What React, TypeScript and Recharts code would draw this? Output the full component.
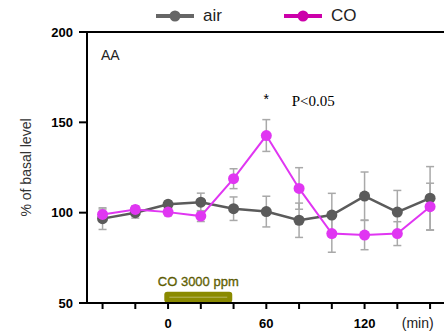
import React from 'react';
import {
  LineChart,
  Line,
  XAxis,
  YAxis,
  ErrorBar,
  ReferenceLine,
  ReferenceArea,
  ReferenceDot,
} from 'recharts';

// time points (min), relative to CO onset
const times = [-40, -20, 0, 20, 40, 60, 80, 100, 120, 140, 160];
const airMean = [96.7, 100, 104.6, 105.8, 102.2, 100.6, 95.8, 98.7, 109.2, 100.3, 108];
const airErr = [6, 3, 2, 5, 6.5, 8.5, 9.5, 12, 13.3, 12, 17.5];
const coMean = [99, 101.8, 100.3, 98.1, 118.8, 142.7, 113.4, 88.4, 87.6, 88.4, 103.3];
const coErr = [3, 2, 2, 3, 5.5, 8.8, 11.5, 10.3, 8.1, 6.6, 13];

const xTicks = [-40, -20, 0, 20, 40, 60, 80, 100, 120, 140, 150, 160];
const xLabels: Record<number, string> = { 0: '0', 60: '60', 120: '120' };
const yTicks = [50, 100, 150, 200];

const data = times.map((t, i) => ({
  t,
  air: airMean[i],
  airErr: airErr[i],
  co: coMean[i],
  coErr: coErr[i],
}));

const FONT = 'Liberation Sans, Arial, sans-serif';
const AIR = '#5b5b5b';
const CO = '#e036f2';

const XTick = (props: any) => {
  const { x, y, payload } = props;
  const v = payload.value;
  if (v === 150) {
    return (
      <text x={x + 4} y={y + 25} textAnchor="middle" fontFamily={FONT} fontSize={14} fill="#222">
        (min)
      </text>
    );
  }
  return (
    <g>
      <line x1={x} x2={x} y1={y} y2={y + 6} stroke="#000" strokeWidth={2} />
      {xLabels[v] && (
        <text x={x} y={y + 25} textAnchor="middle" fontFamily={FONT} fontSize={13} fontWeight="bold" fill="#000">
          {xLabels[v]}
        </text>
      )}
    </g>
  );
};

const LegendSymbol = ({ color }: { color: string }) => (
  <svg width={38} height={14} style={{ display: 'block' }}>
    <line x1={0} x2={38} y1={7} y2={7} stroke={color} strokeWidth={4} />
    <circle cx={19} cy={7} r={5.5} fill={color} />
  </svg>
);

const ChartLegend = () => (
  <div
    style={{
      position: 'absolute',
      top: 6,
      left: 0,
      display: 'flex',
      alignItems: 'center',
      paddingLeft: 156,
      fontFamily: FONT,
      fontSize: 17,
      color: '#222',
      lineHeight: '20px',
    }}
  >
    <LegendSymbol color="#666" />
    <span style={{ marginLeft: 9 }}>air</span>
    <span style={{ width: 62 }} />
    <LegendSymbol color="#cc00aa" />
    <span style={{ marginLeft: 9 }}>CO</span>
  </div>
);

const ExposureBar = (props: any) => {
  const { x, y, width, height } = props;
  return (
    <g>
      <rect x={x} y={y} width={width} height={height} rx={3} fill="#8a8a00" />
      <line x1={x + 5} x2={x + width - 5} y1={y + height / 2} y2={y + height / 2} stroke="#b8b860" strokeWidth={1} />
      <text
        x={x + width / 2}
        y={y - 6}
        textAnchor="middle"
        fontFamily={FONT}
        fontSize={13}
        fill="#6e6e00"
        stroke="#4a4a00"
        strokeWidth={0.3}
      >
        CO 3000 ppm
      </text>
    </g>
  );
};

const TextMark = (text: string, opts: any) => (p: any) => (
  <text x={p.cx} y={p.cy} dominantBaseline="central" {...opts}>
    {text}
  </text>
);

export default function App() {
  return (
    <div style={{ position: 'absolute', left: 0, top: 0, width: 444, height: 332, background: '#fff' }}>
      <LineChart width={444} height={332} data={data} margin={{ top: 32, right: 0, left: 0, bottom: 0 }}>
        <XAxis
          dataKey="t"
          type="number"
          domain={[-49.5, 168.5]}
          ticks={xTicks}
          interval={0}
          height={29}
          tickLine={false}
          tickSize={0}
          tickMargin={0}
          tick={<XTick />}
          axisLine={{ stroke: '#000', strokeWidth: 2 }}
          allowDataOverflow
        />
        <YAxis
          type="number"
          domain={[50, 200]}
          ticks={yTicks}
          width={87}
          tickSize={8}
          tickMargin={6}
          tickLine={{ stroke: '#000', strokeWidth: 2 }}
          axisLine={{ stroke: '#000', strokeWidth: 2 }}
          tick={{ fontFamily: FONT, fontSize: 13, fontWeight: 'bold', fill: '#000' }}
          label={{
            value: '% of basal level',
            angle: -90,
            position: 'insideLeft',
            offset: 26,
            style: { textAnchor: 'middle', fontFamily: FONT, fontSize: 14, fill: '#333' },
          }}
        />
        <ReferenceLine y={200} stroke="#000" strokeWidth={2} ifOverflow="visible" />
        <ReferenceArea x1={-2.3} x2={39.2} y1={50.2} y2={56.2} shape={<ExposureBar />} ifOverflow="visible" />
        <ReferenceDot
          x={-41}
          y={187.3}
          r={0}
          shape={TextMark('AA', { fontFamily: FONT, fontSize: 14, fill: '#222' })}
        />
        <ReferenceDot
          x={60}
          y={163}
          r={0}
          shape={TextMark('*', { fontFamily: FONT, fontSize: 14, fill: '#000', textAnchor: 'middle' })}
        />
        <ReferenceDot
          x={75.5}
          y={162}
          r={0}
          shape={TextMark('P<0.05', { fontFamily: 'Liberation Serif, Times New Roman, serif', fontSize: 15, fill: '#000' })}
        />
        <Line
          dataKey="air"
          stroke={AIR}
          strokeWidth={2.5}
          dot={{ r: 5.5, fill: AIR, stroke: AIR, strokeWidth: 0 }}
          isAnimationActive={false}
        >
          <ErrorBar dataKey="airErr" direction="y" width={4} stroke="#a9a9a9" strokeWidth={1.5} />
        </Line>
        <Line
          dataKey="co"
          stroke={CO}
          strokeWidth={2}
          dot={{ r: 5.5, fill: CO, stroke: CO, strokeWidth: 0 }}
          isAnimationActive={false}
        >
          <ErrorBar dataKey="coErr" direction="y" width={4} stroke="#a9a9a9" strokeWidth={1.5} />
        </Line>
      </LineChart>
      <ChartLegend />
    </div>
  );
}
